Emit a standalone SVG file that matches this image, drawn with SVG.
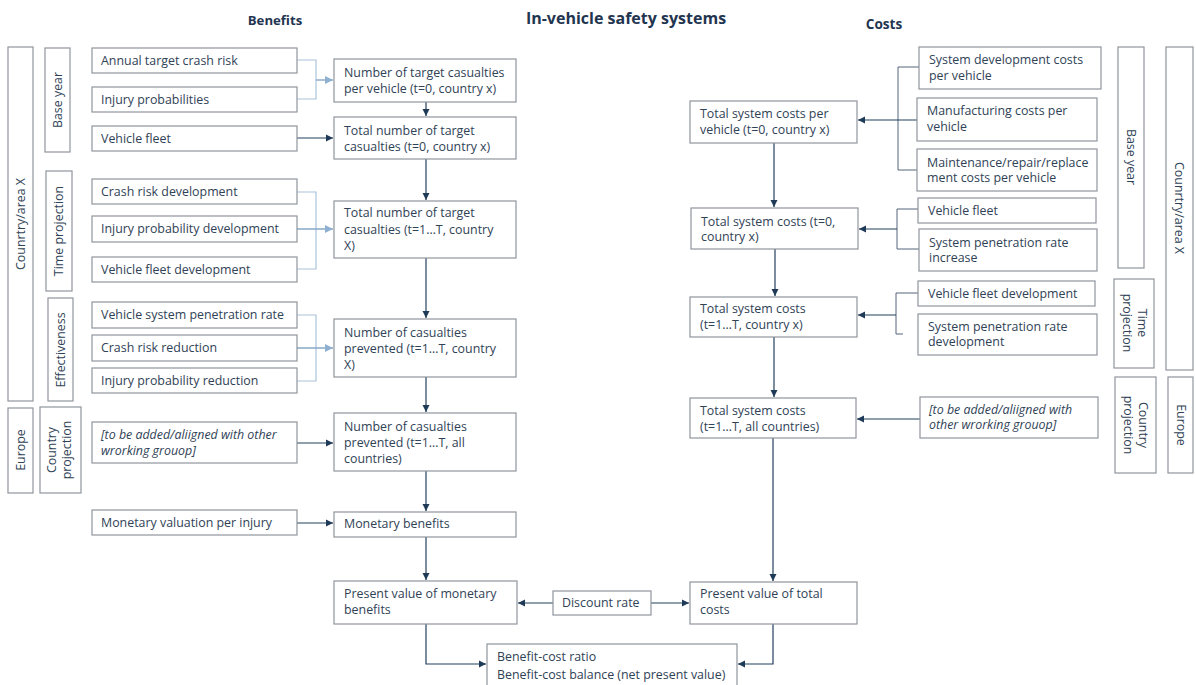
<svg xmlns="http://www.w3.org/2000/svg" width="1196" height="685" viewBox="0 0 1196 685">
  <defs>
    <style>
      .box { fill: #ffffff; stroke: #8f969d; stroke-width: 1.2; }
      .t { font-family: "Open Sans", "Liberation Sans", sans-serif; font-size: 12.4px; fill: #2f4256; }
      .it { font-style: italic; }
      .hd { font-family: "Open Sans", "Liberation Sans", sans-serif; font-weight: bold; fill: #1f3550; text-anchor: middle; }
      .lab { font-family: "Open Sans", "Liberation Sans", sans-serif; font-size: 12.4px; fill: #2f4256; text-anchor: middle; }
      .dkA { fill: none; stroke: #23405e; stroke-width: 1.2; marker-end: url(#arrowDark); }
      .lt { fill: none; stroke: #a9c3dc; stroke-width: 1.2; }
      .ltA { fill: none; stroke: #86a8c9; stroke-width: 1.4; marker-end: url(#arrowLight); }
      .br { fill: none; stroke: #55677a; stroke-width: 1; }
    </style>
    <marker id="arrowDark" markerUnits="userSpaceOnUse" markerWidth="8" markerHeight="8" refX="7" refY="4" orient="auto">
      <path d="M0,0.5 L7,4 L0,7.5 z" fill="#1f3a57"/>
    </marker>
    <marker id="arrowLight" markerUnits="userSpaceOnUse" markerWidth="9" markerHeight="9" refX="8" refY="4.5" orient="auto">
      <path d="M0,0.5 L8,4.5 L0,8.5 z" fill="#8fb0d0"/>
    </marker>
  </defs>

  <rect width="1196" height="685" fill="#ffffff"/>

  <!-- headings -->
  <g id="headings">
    <text class="hd" x="626" y="24" font-size="16">In-vehicle safety systems</text>
    <text class="hd" x="275" y="25" font-size="13.2">Benefits</text>
    <text class="hd" x="884" y="29" font-size="13.6">Costs</text>
  </g>

  <!-- scope bands, left -->
  <g id="band-country-left">
    <rect class="box" x="8" y="47" width="25" height="354"/>
    <text class="lab" transform="translate(25,224) rotate(-90)">Counrtry/area X</text>
  </g>
  <g id="band-base-left">
    <rect class="box" x="45" y="48" width="25" height="104"/>
    <text class="lab" transform="translate(62,100) rotate(-90)">Base year</text>
  </g>
  <g id="band-time-left">
    <rect class="box" x="46" y="171" width="26" height="120"/>
    <text class="lab" transform="translate(63,231) rotate(-90)">Time projection</text>
  </g>
  <g id="band-eff-left">
    <rect class="box" x="48" y="298" width="25" height="103"/>
    <text class="lab" transform="translate(65,350) rotate(-90)">Effectiveness</text>
  </g>
  <g id="band-europe-left">
    <rect class="box" x="8" y="408" width="25" height="85"/>
    <text class="lab" transform="translate(25,450) rotate(-90)">Europe</text>
  </g>
  <g id="band-cproj-left">
    <rect class="box" x="40" y="407" width="41" height="86"/>
    <text class="lab" transform="translate(56,450) rotate(-90)">Country<tspan x="0" dy="15">projection</tspan></text>
  </g>

  <!-- scope bands, right -->
  <g id="band-base-right">
    <rect class="box" x="1118" y="47" width="26" height="221"/>
    <text class="lab" transform="translate(1127,157) rotate(90)">Base year</text>
  </g>
  <g id="band-country-right">
    <rect class="box" x="1166" y="47" width="27" height="323"/>
    <text class="lab" transform="translate(1175,208) rotate(90)">Counrtry/area X</text>
  </g>
  <g id="band-time-right">
    <rect class="box" x="1114" y="279" width="40" height="89"/>
    <text class="lab" transform="translate(1138,323) rotate(90)">Time<tspan x="0" dy="15">projection</tspan></text>
  </g>
  <g id="band-cproj-right">
    <rect class="box" x="1115" y="377" width="41" height="96"/>
    <text class="lab" transform="translate(1139,425) rotate(90)">Country<tspan x="0" dy="15">projection</tspan></text>
  </g>
  <g id="band-europe-right">
    <rect class="box" x="1168" y="377" width="25" height="96"/>
    <text class="lab" transform="translate(1177,425) rotate(90)">Europe</text>
  </g>

  <!-- connectors -->
  <g id="connectors">
    <!-- benefits: light input brackets -->
    <path class="lt" d="M297,60 H316 V99 H297"/>
    <path class="ltA" d="M316,80 H333"/>
    <path class="lt" d="M297,192 H316 V269 H297"/>
    <path class="ltA" d="M297,229 H333"/>
    <path class="lt" d="M297,315 H316 V381 H297"/>
    <path class="ltA" d="M297,348 H333"/>
    <!-- benefits: direct inputs -->
    <path class="dkA" d="M297,138 H333"/>
    <path class="dkA" d="M297,443 H333"/>
    <path class="dkA" d="M297,523 H333"/>
    <!-- benefits: main chain -->
    <path class="dkA" d="M426,102 V116"/>
    <path class="dkA" d="M426,159 V200"/>
    <path class="dkA" d="M426,258 V318"/>
    <path class="dkA" d="M426,377 V412"/>
    <path class="dkA" d="M426,471 V511"/>
    <path class="dkA" d="M426,537 V580"/>
    <path class="dkA" d="M426,624 V664 H486"/>
    <!-- discount rate -->
    <path class="dkA" d="M553,603 H518"/>
    <path class="dkA" d="M651,603 H689"/>
    <!-- costs: input brackets -->
    <path class="br" d="M919,67 H898 V170 H917"/>
    <path class="dkA" d="M917,120 H858"/>
    <path class="br" d="M918,209 H897 V249 H919"/>
    <path class="dkA" d="M897,229 H859"/>
    <path class="br" d="M918,293 H896 V334 H903"/>
    <path class="dkA" d="M896,315 H858"/>
    <path class="dkA" d="M920,419 H857"/>
    <!-- costs: main chain -->
    <path class="dkA" d="M774,143 V207"/>
    <path class="dkA" d="M775,249 V296"/>
    <path class="dkA" d="M774,337 V397"/>
    <path class="dkA" d="M773,438 V581"/>
    <path class="dkA" d="M773,624 V664 H738"/>
  </g>

  <!-- benefits inputs -->
  <g id="in-annual-crash-risk">
    <rect class="box" x="92" y="48" width="205" height="25"/>
    <text class="t" x="101" y="65">Annual target crash risk</text>
  </g>
  <g id="in-injury-prob">
    <rect class="box" x="92" y="87" width="205" height="25"/>
    <text class="t" x="101" y="104">Injury probabilities</text>
  </g>
  <g id="in-vehicle-fleet">
    <rect class="box" x="92" y="126" width="205" height="25"/>
    <text class="t" x="101" y="143">Vehicle fleet</text>
  </g>
  <g id="in-crash-risk-dev">
    <rect class="box" x="92" y="179" width="205" height="25"/>
    <text class="t" x="101" y="196">Crash risk development</text>
  </g>
  <g id="in-injury-prob-dev">
    <rect class="box" x="92" y="216" width="205" height="26"/>
    <text class="t" x="101" y="233">Injury probability development</text>
  </g>
  <g id="in-fleet-dev">
    <rect class="box" x="92" y="257" width="205" height="25"/>
    <text class="t" x="101" y="274">Vehicle fleet development</text>
  </g>
  <g id="in-penetration">
    <rect class="box" x="92" y="302" width="205" height="26"/>
    <text class="t" x="101" y="319">Vehicle system penetration rate</text>
  </g>
  <g id="in-crash-risk-red">
    <rect class="box" x="92" y="335" width="205" height="26"/>
    <text class="t" x="101" y="352">Crash risk reduction</text>
  </g>
  <g id="in-injury-prob-red">
    <rect class="box" x="92" y="368" width="205" height="25"/>
    <text class="t" x="101" y="385">Injury probability reduction</text>
  </g>
  <g id="in-other-group-left">
    <rect class="box" x="92" y="422" width="205" height="41"/>
    <text class="t it" x="101" y="439">[to be added/aliigned with other</text>
    <text class="t it" x="101" y="455">wrorking grouop]</text>
  </g>
  <g id="in-valuation">
    <rect class="box" x="92" y="510" width="205" height="25"/>
    <text class="t" x="101" y="527">Monetary valuation per injury</text>
  </g>

  <!-- benefits chain -->
  <g id="b-target-per-vehicle">
    <rect class="box" x="334" y="59" width="182" height="43" stroke="#5c6d7e"/>
    <text class="t" x="344" y="77">Number of target casualties</text>
    <text class="t" x="344" y="93">per vehicle (t=0, country x)</text>
  </g>
  <g id="b-total-t0">
    <rect class="box" x="334" y="117" width="182" height="42"/>
    <text class="t" x="344" y="135">Total number of target</text>
    <text class="t" x="344" y="151">casualties (t=0, country x)</text>
  </g>
  <g id="b-total-t1T">
    <rect class="box" x="334" y="201" width="182" height="57"/>
    <text class="t" x="344" y="217">Total number of target</text>
    <text class="t" x="344" y="233.5">casualties (t=1…T, country</text>
    <text class="t" x="344" y="250">X)</text>
  </g>
  <g id="b-prevented-country">
    <rect class="box" x="334" y="319" width="182" height="58"/>
    <text class="t" x="344" y="337">Number of casualties</text>
    <text class="t" x="344" y="353">prevented (t=1…T, country</text>
    <text class="t" x="344" y="369">X)</text>
  </g>
  <g id="b-prevented-all">
    <rect class="box" x="334" y="413" width="182" height="58"/>
    <text class="t" x="344" y="431">Number of casualties</text>
    <text class="t" x="344" y="447">prevented (t=1…T, all</text>
    <text class="t" x="344" y="463">countries)</text>
  </g>
  <g id="b-monetary">
    <rect class="box" x="334" y="512" width="182" height="25"/>
    <text class="t" x="344" y="528">Monetary benefits</text>
  </g>
  <g id="b-present-value">
    <rect class="box" x="334" y="581" width="183" height="43"/>
    <text class="t" x="344" y="598">Present value of monetary</text>
    <text class="t" x="344" y="614">benefits</text>
  </g>

  <!-- shared -->
  <g id="discount-rate">
    <rect class="box" x="553" y="591" width="98" height="24"/>
    <text class="t" x="562" y="607">Discount rate</text>
  </g>
  <g id="result">
    <rect class="box" x="487" y="644" width="250" height="50"/>
    <text class="t" x="497" y="661">Benefit-cost ratio</text>
    <text class="t" x="497" y="679">Benefit-cost balance (net present value)</text>
  </g>

  <!-- costs inputs -->
  <g id="in-dev-costs">
    <rect class="box" x="919" y="47" width="182" height="42"/>
    <text class="t" x="929" y="64">System development costs</text>
    <text class="t" x="929" y="80">per vehicle</text>
  </g>
  <g id="in-manuf-costs">
    <rect class="box" x="917" y="98" width="180" height="43"/>
    <text class="t" x="927" y="115">Manufacturing costs per</text>
    <text class="t" x="927" y="131">vehicle</text>
  </g>
  <g id="in-maint-costs">
    <rect class="box" x="917" y="149" width="180" height="42"/>
    <text class="t" x="927" y="167">Maintenance/repair/replace</text>
    <text class="t" x="927" y="182">ment costs per vehicle</text>
  </g>
  <g id="in-fleet-right">
    <rect class="box" x="918" y="198" width="178" height="25"/>
    <text class="t" x="928" y="215">Vehicle fleet</text>
  </g>
  <g id="in-pen-increase">
    <rect class="box" x="919" y="229" width="178" height="42"/>
    <text class="t" x="929" y="247">System penetration rate</text>
    <text class="t" x="929" y="262">increase</text>
  </g>
  <g id="in-fleet-dev-right">
    <rect class="box" x="918" y="281" width="177" height="25"/>
    <text class="t" x="928" y="298">Vehicle fleet development</text>
  </g>
  <g id="in-pen-dev">
    <rect class="box" x="918" y="314" width="179" height="41"/>
    <text class="t" x="928" y="331">System penetration rate</text>
    <text class="t" x="928" y="346">development</text>
  </g>
  <g id="in-other-group-right">
    <rect class="box" x="920" y="397" width="178" height="41"/>
    <text class="t it" x="929" y="414">[to be added/aliigned with</text>
    <text class="t it" x="929" y="429">other wrorking grouop]</text>
  </g>

  <!-- costs chain -->
  <g id="c-per-vehicle">
    <rect class="box" x="690" y="101" width="167" height="42"/>
    <text class="t" x="700" y="118">Total system costs per</text>
    <text class="t" x="700" y="134">vehicle (t=0, country x)</text>
  </g>
  <g id="c-total-t0">
    <rect class="box" x="691" y="208" width="167" height="41"/>
    <text class="t" x="701" y="226">Total system costs (t=0,</text>
    <text class="t" x="701" y="241">country x)</text>
  </g>
  <g id="c-total-t1T">
    <rect class="box" x="690" y="297" width="167" height="40"/>
    <text class="t" x="700" y="313">Total system costs</text>
    <text class="t" x="700" y="329">(t=1…T, country x)</text>
  </g>
  <g id="c-total-all">
    <rect class="box" x="690" y="398" width="166" height="40"/>
    <text class="t" x="700" y="415">Total system costs</text>
    <text class="t" x="700" y="431">(t=1…T, all countries)</text>
  </g>
  <g id="c-present-value">
    <rect class="box" x="690" y="582" width="167" height="42"/>
    <text class="t" x="700" y="598">Present value of total</text>
    <text class="t" x="700" y="614">costs</text>
  </g>
</svg>
